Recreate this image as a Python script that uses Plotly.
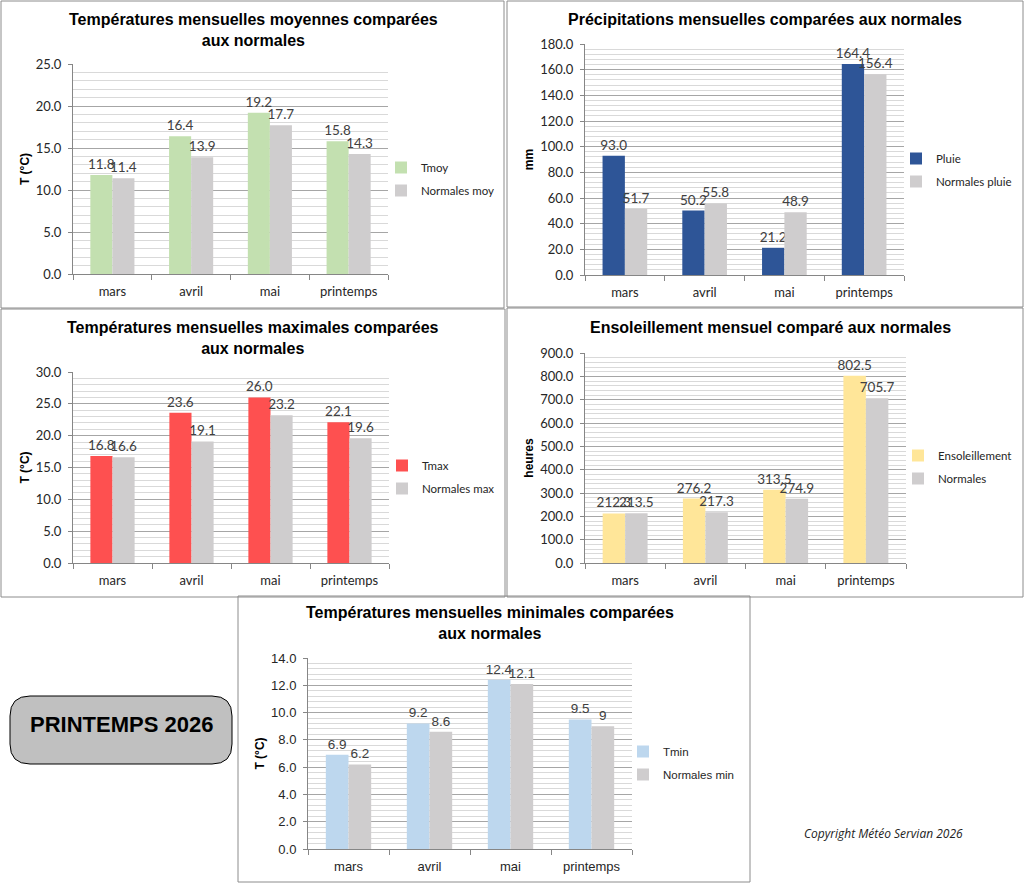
import plotly.graph_objects as go

W, H = 1025, 883

categories = ["mars", "avril", "mai", "printemps"]

tmoy = [11.8, 16.4, 19.2, 15.8]
tmoy_norm = [11.4, 13.9, 17.7, 14.3]
pluie = [93.0, 50.2, 21.2, 164.4]
pluie_norm = [51.7, 55.8, 48.9, 156.4]
tmax = [16.8, 23.6, 26.0, 22.1]
tmax_norm = [16.6, 19.1, 23.2, 19.6]
soleil = [212.3, 276.2, 313.5, 802.5]
soleil_norm = [213.5, 217.3, 274.9, 705.7]
tmin = [6.9, 9.2, 12.4, 9.5]
tmin_norm = [6.2, 8.6, 12.1, 9]


def px(x):
    return x / W


def py(y):
    return 1 - y / H


GRAY = "#cfcdce"
FONT_MAIN = "Lato, Liberation Sans, Arial"
FONT_TITLE = "Liberation Sans, Arial"
FONT_NARROW = "Liberation Sans Narrow, Arial Narrow, Liberation Sans"

panels = [
    dict(title="Températures mensuelles moyennes comparées<br>aux normales",
         title_xy=(253, 30), ytitle="T (°C)",
         series=[("Tmoy", tmoy, "#c3e0b0"), ("Normales moy", tmoy_norm, GRAY)],
         yrange=[0, 25], dtick=5, minor=1,
         area=(73, 64, 388, 274), legend_xy=(381, 179),
         border=(1, 1, 504, 308), font=FONT_MAIN, tfont=FONT_TITLE, fmt="{:.1f}"),
    dict(title="Précipitations mensuelles comparées aux normales",
         title_xy=(765, 19), ytitle="mm",
         series=[("Pluie", pluie, "#2e5597"), ("Normales pluie", pluie_norm, GRAY)],
         yrange=[0, 180], dtick=20, minor=4,
         area=(585, 44, 904, 275), legend_xy=(896, 170),
         border=(507, 1, 1023, 307), font=FONT_MAIN, tfont=FONT_TITLE, fmt="{:.1f}"),
    dict(title="Températures mensuelles maximales comparées<br>aux normales",
         title_xy=(253, 338), ytitle="T (°C)",
         series=[("Tmax", tmax, "#fe5050"), ("Normales max", tmax_norm, GRAY)],
         yrange=[0, 30], dtick=5, minor=1,
         area=(73, 372, 389, 563), legend_xy=(382, 477),
         border=(1, 309, 505, 597), font=FONT_MAIN, tfont=FONT_TITLE, fmt="{:.1f}"),
    dict(title="Ensoleillement mensuel comparé aux normales",
         title_xy=(770, 327), ytitle="heures",
         series=[("Ensoleillement", soleil, "#ffe699"), ("Normales", soleil_norm, GRAY)],
         yrange=[0, 900], dtick=100, minor=20,
         area=(585, 353, 906, 563), legend_xy=(898, 467),
         border=(507, 308, 1023, 597), font=FONT_MAIN, tfont=FONT_TITLE, fmt="{:.1f}"),
    dict(title="Températures mensuelles minimales comparées<br>aux normales",
         title_xy=(490, 623), ytitle="T (°C)",
         series=[("Tmin", tmin, "#bdd7ee"), ("Normales min", tmin_norm, GRAY)],
         yrange=[0, 14], dtick=2, minor=0.4,
         area=(308, 658, 632, 849), legend_xy=(623, 763),
         border=(238, 596, 750, 882), font=FONT_NARROW, tfont=FONT_NARROW, fmt=None),
]

fig = go.Figure()
shapes = []
annotations = []
layout_upd = {}

for i, p in enumerate(panels):
    n = i + 1
    sfx = "" if n == 1 else str(n)
    xa, ya = "x" + sfx, "y" + sfx
    lg = "legend" + sfx
    for name, vals, col in p["series"]:
        if p["fmt"]:
            txt = [p["fmt"].format(v) for v in vals]
        else:
            txt = [str(v) for v in vals]
        fig.add_trace(go.Bar(
            x=categories, y=vals, name=name, marker=dict(color=col, line=dict(width=0)),
            text=txt, textposition="outside", constraintext="none", cliponaxis=False,
            textfont=dict(family=p["font"], size=13.5, color="#404040"),
            xaxis=xa, yaxis=ya, legend=lg, legendgroup=name,
            hovertemplate="%{x}: %{y}<extra>" + name + "</extra>",
        ))
    x0, y0, x1, y1 = p["area"]
    layout_upd["xaxis" + sfx] = dict(
        domain=[px(x0), px(x1)], anchor=ya, type="category",
        tickson="boundaries", ticks="outside", ticklen=5, tickcolor="#868686",
        showline=True, linecolor="#868686", showgrid=False, ticklabelstandoff=5,
        tickfont=dict(family=p["font"], size=13, color="#262626"),
        fixedrange=True, automargin=False,
    )
    layout_upd["yaxis" + sfx] = dict(
        domain=[py(y1), py(y0)], anchor=xa, range=p["yrange"], dtick=p["dtick"],
        tickformat=".1f", ticks="outside", ticklen=4, tickcolor="#868686",
        showline=True, linecolor="#868686", showgrid=True, gridcolor="#a6a6a6",
        zeroline=False, ticklabelstandoff=4,
        minor=dict(dtick=p["minor"], showgrid=True, gridcolor="#d9d9d9", ticks=""),
        tickfont=dict(family=p["font"], size=13, color="#262626"),
        title=dict(text="<b>" + p["ytitle"] + "</b>", standoff=3,
                   font=dict(family=p["tfont"], size=12, color="#000")),
        fixedrange=True, automargin=False,
    )
    lx, lyc = p["legend_xy"]
    layout_upd[lg] = dict(
        x=px(lx), y=py(lyc), xanchor="left", yanchor="middle",
        bgcolor="rgba(0,0,0,0)", font=dict(family=p["font"], size=11.5, color="#262626"),
        itemwidth=30, tracegroupgap=4,
    )
    bx0, by0, bx1, by1 = p["border"]
    shapes.append(dict(type="rect", xref="paper", yref="paper",
                       x0=px(bx0), x1=px(bx1), y0=py(by1), y1=py(by0),
                       line=dict(color="#8c8c8c", width=1), layer="below"))
    tx, ty = p["title_xy"]
    annotations.append(dict(
        text="<b>" + p["title"] + "</b>", x=px(tx), y=py(ty), xref="paper", yref="paper",
        xanchor="center", yanchor="middle", showarrow=False,
        font=dict(family=p["tfont"], size=16, color="#000"),
    ))

# PRINTEMPS 2026 rounded box
bx0, by0, bx1, by1, r = 10, 696, 232, 764, 20
path = (
    f"M {px(bx0 + r)},{py(by0)} L {px(bx1 - r)},{py(by0)} "
    f"Q {px(bx1)},{py(by0)} {px(bx1)},{py(by0 + r)} "
    f"L {px(bx1)},{py(by1 - r)} Q {px(bx1)},{py(by1)} {px(bx1 - r)},{py(by1)} "
    f"L {px(bx0 + r)},{py(by1)} Q {px(bx0)},{py(by1)} {px(bx0)},{py(by1 - r)} "
    f"L {px(bx0)},{py(by0 + r)} Q {px(bx0)},{py(by0)} {px(bx0 + r)},{py(by0)} Z"
)
shapes.append(dict(type="path", xref="paper", yref="paper", path=path,
                   fillcolor="#c0c0c0", line=dict(color="#000", width=1)))
annotations.append(dict(
    text="<b>PRINTEMPS 2026</b>", x=px(121), y=py(724), xref="paper", yref="paper",
    xanchor="center", yanchor="middle", showarrow=False,
    font=dict(family=FONT_NARROW, size=22, color="#000"),
))
annotations.append(dict(
    text="<i>Copyright Météo Servian 2026</i>", x=px(883), y=py(833), xref="paper", yref="paper",
    xanchor="center", yanchor="middle", showarrow=False,
    font=dict(family="Open Sans, Liberation Sans", size=12, color="#222"),
))

fig.update_layout(
    width=W, height=H, margin=dict(l=0, r=0, t=0, b=0, pad=0, autoexpand=False),
    paper_bgcolor="white", plot_bgcolor="white",
    barmode="group", bargap=0.44, bargroupgap=0,
    shapes=shapes, annotations=annotations,
    **layout_upd,
)

fig.write_html("out.html")
